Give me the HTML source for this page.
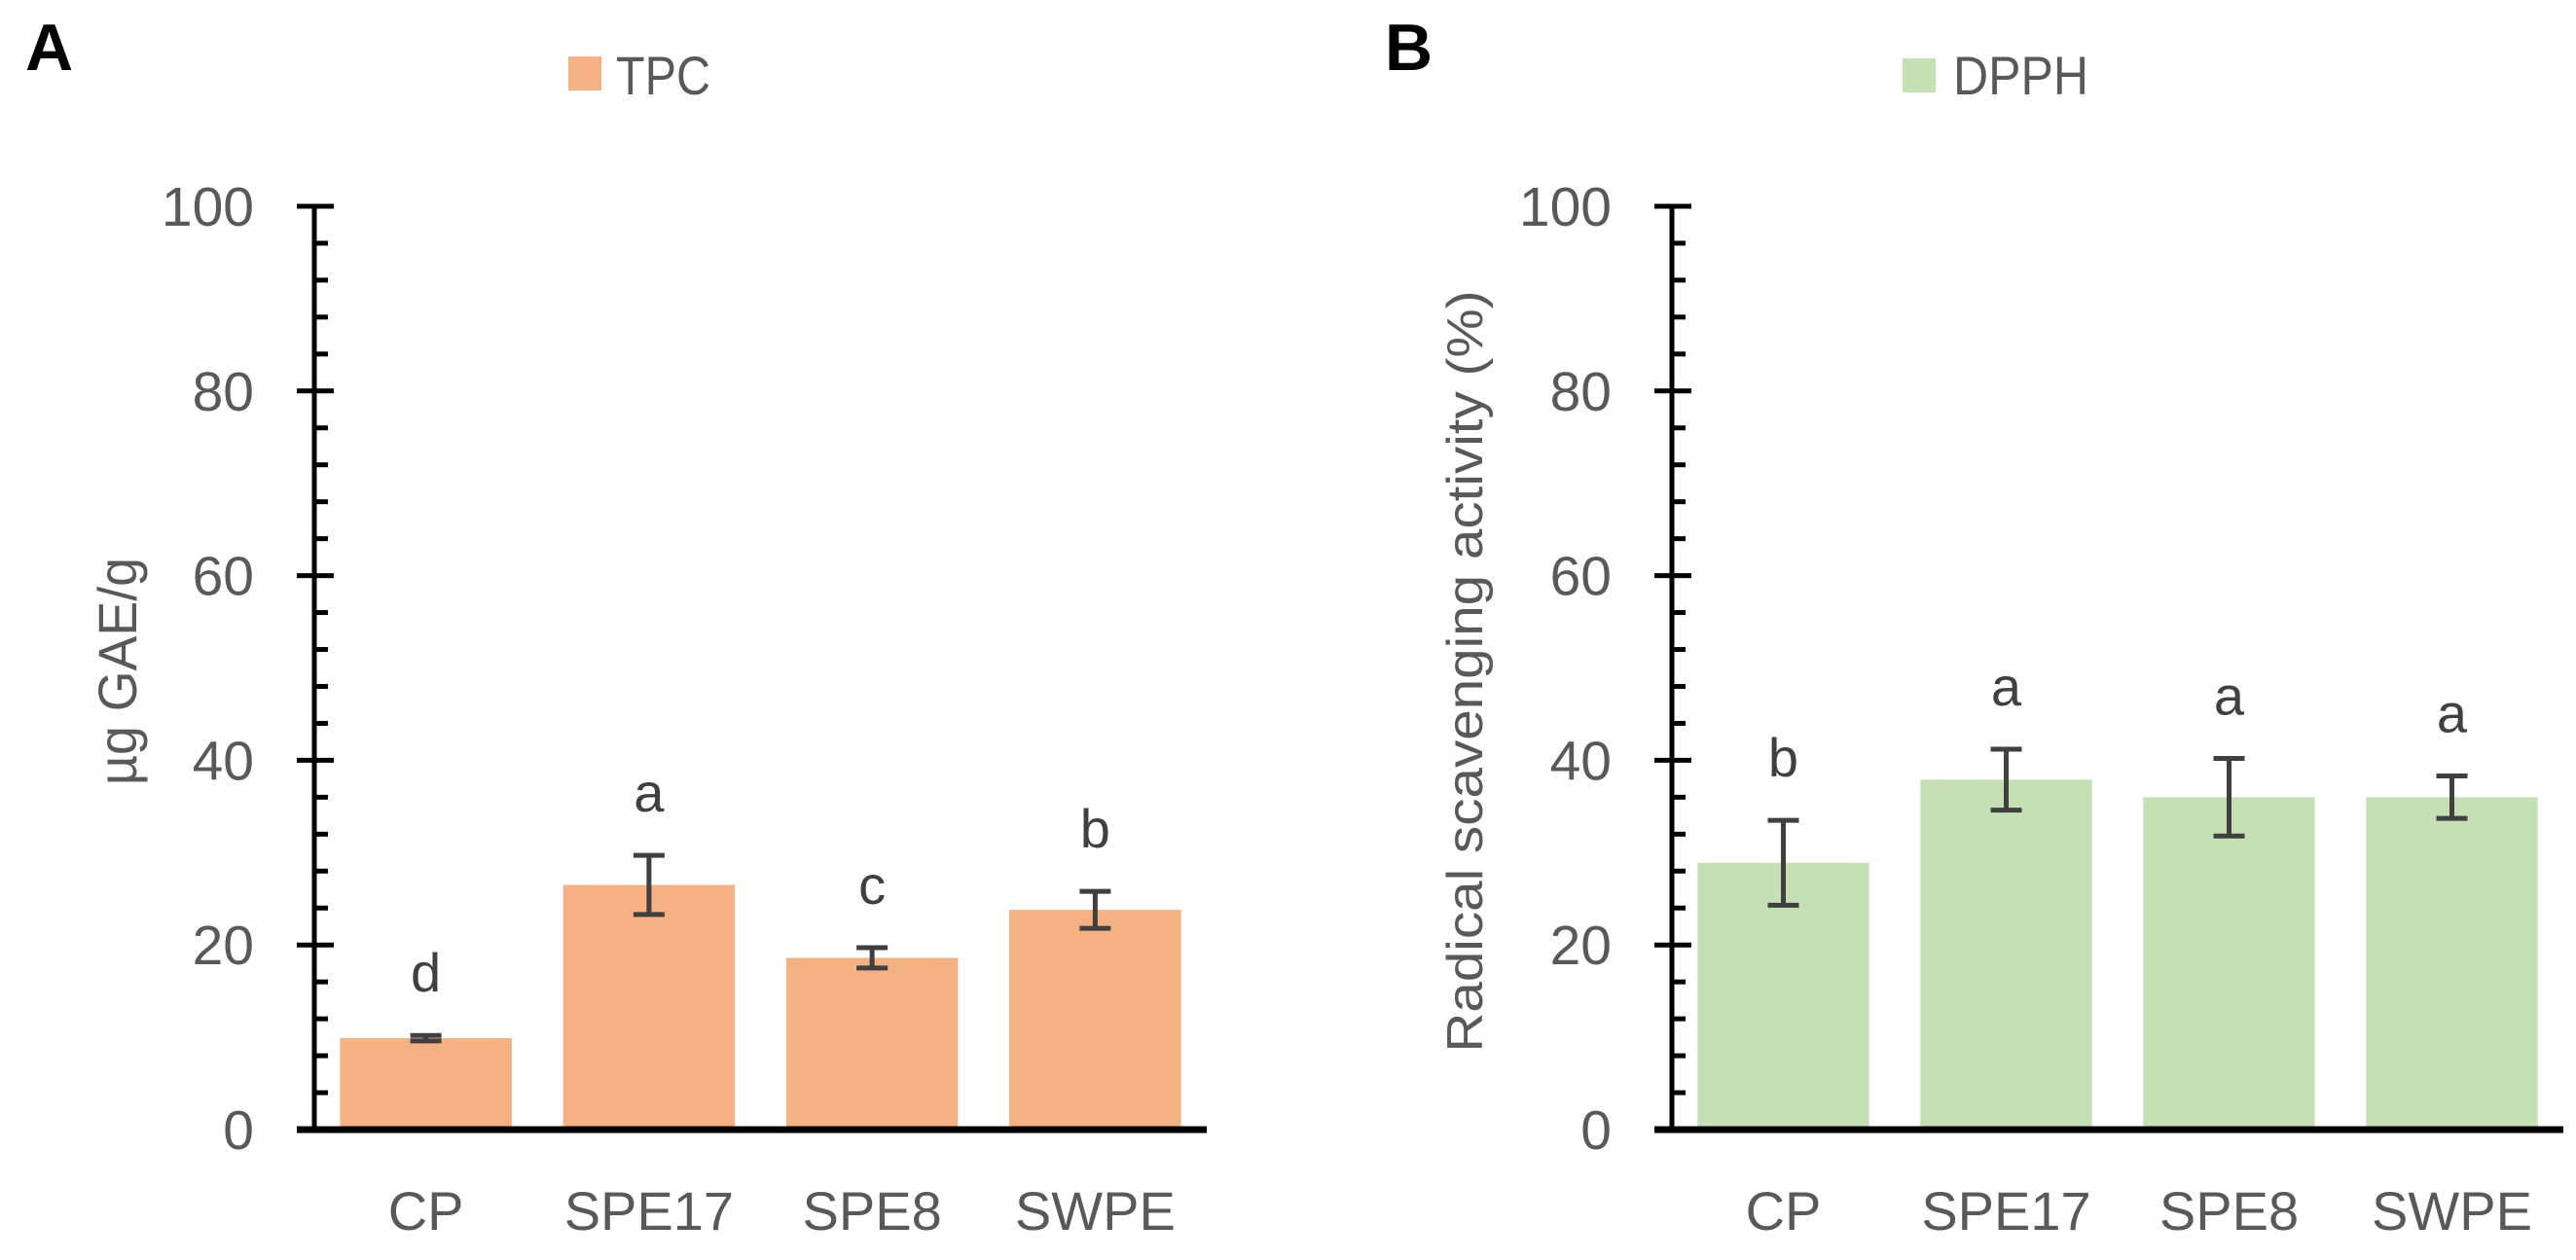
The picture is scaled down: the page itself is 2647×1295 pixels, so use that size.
<!DOCTYPE html>
<html><head><meta charset="utf-8"><style>
html,body{margin:0;padding:0;background:#fff;}
svg{display:block;font-family:"Liberation Sans",sans-serif;}
</style></head><body>
<svg id="chart" width="2647" height="1295" viewBox="0 0 2647 1295" xmlns="http://www.w3.org/2000/svg">
<text x="26" y="72" font-size="68" font-weight="bold" fill="#000">A</text>
<text x="1423" y="72" font-size="68" font-weight="bold" fill="#000">B</text>
<rect x="584" y="58" width="34" height="35" fill="#f4b183"/>
<text x="633" y="97" font-size="56" fill="#595959" textLength="97" lengthAdjust="spacingAndGlyphs">TPC</text>
<rect x="1955" y="60" width="34" height="35" fill="#c5e0b4"/>
<text x="2007" y="97" font-size="56" fill="#595959" textLength="139" lengthAdjust="spacingAndGlyphs">DPPH</text>
<text transform="translate(140,690) rotate(-90)" text-anchor="middle" font-size="56" fill="#595959" textLength="234" lengthAdjust="spacingAndGlyphs">µg GAE/g</text>
<text transform="translate(1523,690) rotate(-90)" text-anchor="middle" font-size="52" fill="#595959" textLength="783" lengthAdjust="spacingAndGlyphs">Radical scavenging activity (%)</text>
<g id="panelA"></g>
<g id="panelB"></g>
</svg>
<script>
const categories = ["CP", "SPE17", "SPE8", "SWPE"];
const tpcValues = [9.9, 26.5, 18.6, 23.8];
const tpcErrors = [0.3, 3.2, 1.1, 2.0];
const tpcLetters = ["d", "a", "c", "b"];
const dpphValues = [28.9, 37.9, 36.0, 36.0];
const dpphErrors = [4.6, 3.3, 4.2, 2.3];
const dpphLetters = ["b", "a", "a", "a"];
const yTicks = [0, 20, 40, 60, 80, 100];

const NS = "http://www.w3.org/2000/svg";
function mk(tag, attrs, parent) {
  const e = document.createElementNS(NS, tag);
  for (const k in attrs) e.setAttribute(k, attrs[k]);
  parent.appendChild(e);
  return e;
}
function drawPanel(g, cfg, values, errors, letters, key) {
  const y = v => cfg.y0 - (v / 100) * (cfg.y0 - cfg.y100);
  const step = (cfg.xEnd - cfg.ax) / categories.length;
  const bw = step * 0.77;
  const x = i => cfg.ax + step * (i + 0.5);
  categories.forEach((c, i) => {
    const b = mk("rect", {x: x(i) - bw / 2, y: y(values[i]), width: bw, height: cfg.y0 - y(values[i]), fill: cfg.color}, g);
    
    
    const top = y(values[i] + errors[i]), bot = y(values[i] - errors[i]);
    const eg = mk("g", {stroke: "#404040", "stroke-width": 5}, g);
    
    
    mk("line", {x1: x(i), x2: x(i), y1: top, y2: bot}, eg);
    mk("line", {x1: x(i) - 16, x2: x(i) + 16, y1: top, y2: top}, eg);
    mk("line", {x1: x(i) - 16, x2: x(i) + 16, y1: bot, y2: bot}, eg);
    const lt = mk("text", {x: x(i), y: top - 45, "text-anchor": "middle", "font-size": 56, fill: "#404040"}, g);
    lt.textContent = letters[i];
    
    
    const xl = mk("text", {x: x(i), y: cfg.y0 + 103, "text-anchor": "middle", "font-size": 56, fill: "#595959"}, g);
    xl.textContent = c;
    
    
  });
  const ax = mk("line", {x1: cfg.ax, x2: cfg.ax, y1: y(100), y2: cfg.y0, stroke: "#000", "stroke-width": 5}, g);
  
  
  for (let v = 0; v <= 100; v += 4) {
    if (v % 20 === 0) continue;
    const t = mk("line", {x1: cfg.ax, x2: cfg.ax + 14, y1: y(v), y2: y(v), stroke: "#000", "stroke-width": 5}, g);
    
    
  }
  yTicks.forEach(v => {
    const t = mk("line", {x1: cfg.ax - 18, x2: cfg.ax + 20, y1: y(v), y2: y(v), stroke: "#000", "stroke-width": 5}, g);
    
    
    const l = mk("text", {x: cfg.ax - 62, y: y(v) + 20, "text-anchor": "end", "font-size": 57, fill: "#595959"}, g);
    l.textContent = v;
    
    
  });
  const xa = mk("line", {x1: cfg.ax - 18, x2: cfg.xEnd, y1: cfg.y0, y2: cfg.y0, stroke: "#000", "stroke-width": 7}, g);
  
  
}
drawPanel(document.getElementById("panelA"), {ax: 323, xEnd: 1240, y0: 1161, y100: 212, color: "#f4b183"}, tpcValues, tpcErrors, tpcLetters, "tpc");
drawPanel(document.getElementById("panelB"), {ax: 1718, xEnd: 2634, y0: 1161, y100: 212, color: "#c5e0b4"}, dpphValues, dpphErrors, dpphLetters, "dpph");
</script>
</body></html>
